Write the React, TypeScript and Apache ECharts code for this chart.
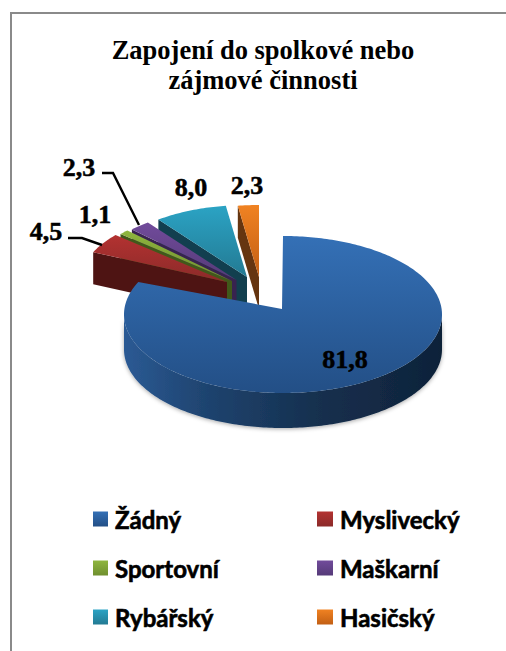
import React, { useEffect, useRef } from "react";
import * as echarts from "echarts";

const categories = ["Žádný", "Myslivecký", "Sportovní", "Maškarní", "Rybářský", "Hasičský"];
const seriesValues = [81.8, 4.5, 1.1, 2.3, 8.0, 2.3];
const titleLines = ["Zapojení do spolkové nebo", "zájmové činnosti"];

// Styling: [top-of-gradient, bottom-of-gradient, side face]
const palette = [
  ["#3470b6", "#234f86", "#1a3658"],
  ["#b33231", "#8b2a29", "#4e1413"],
  ["#8fb63e", "#6f8f2f", "#41591a"],
  ["#714b9b", "#553a78", "#38234f"],
  ["#2ba3c4", "#237a93", "#123f4f"],
  ["#f08222", "#c25f14", "#653510"],
];
// Layout of the 3D projection for each slice: top-face apex, arc centre, radii, depth, label centre
const layout = [
  { ax: 282, ay: 309, cx: 283, cy: 314.5, rx: 159, ry: 78.5, d: 35, lx: 345, ly: 359 },
  { ax: 227, ay: 282, cx: 227, cy: 282, rx: 147, ry: 72, d: 32, lx: 46, ly: 231 },
  { ax: 232, ay: 281, cx: 232, cy: 281, rx: 147, ry: 72, d: 32, lx: 95, ly: 214 },
  { ax: 236.5, ay: 280, cx: 236.5, cy: 280, rx: 147, ry: 72, d: 32, lx: 79, ly: 167 },
  { ax: 247, ay: 277, cx: 247, cy: 277, rx: 147, ry: 72, d: 32, lx: 191, ly: 187 },
  { ax: 259, ay: 277, cx: 259, cy: 277, rx: 147, ry: 72, d: 32, lx: 247, ly: 185 },
];
const leaders: Record<number, number[][]> = {
  1: [[68, 238], [82, 238], [102, 245]],
  3: [[102, 173], [113, 173], [139, 225]],
};
const legendPos = [
  [93, 503], [317, 503], [93, 552], [317, 552], [93, 601], [317, 601],
];

const vGrad = (a: string, b: string) =>
  new echarts.graphic.LinearGradient(0, 0, 0, 1, [
    { offset: 0, color: a },
    { offset: 1, color: b },
  ]);

const total = seriesValues.reduce((s, v) => s + v, 0);
const starts: number[] = [];
seriesValues.reduce((acc, v, i) => {
  starts[i] = acc;
  return acc + v;
}, 0);

function makeRender(i: number) {
  return (_params: any, api: any) => {
    const value = api.value(0) as number;
    const a0 = (starts[i] / total) * 360;
    const a1 = a0 + (value / total) * 360;
    const L = layout[i];
    const pt = (deg: number, dy = 0) => {
      const r = (deg * Math.PI) / 180;
      return [L.cx + L.rx * Math.sin(r), L.cy - L.ry * Math.cos(r) + dy];
    };
    const arc = (from: number, to: number, dy = 0) => {
      const n = Math.max(2, Math.ceil(Math.abs(to - from)));
      const out: number[][] = [];
      for (let k = 0; k <= n; k++) out.push(pt(from + ((to - from) * k) / n, dy));
      return out;
    };
    const children: any[] = [];
    const [c0, c1, side] = palette[i];
    if (i === 0) {
      const wall = [...arc(90, 270), ...arc(270, 90, L.d)];
      children.push({
        type: "polygon",
        shape: { points: wall },
        style: {
          fill: new echarts.graphic.LinearGradient(0, 0, 1, 0, [
            { offset: 0, color: "#2b5a94" },
            { offset: 0.25, color: "#1f4470" },
            { offset: 0.6, color: "#15304f" },
            { offset: 1, color: "#0f2239" },
          ]),
          shadowBlur: 4,
          shadowColor: "rgba(0,0,0,0.35)",
          shadowOffsetY: 1,
        },
      });
    } else {
      const outer = pt(a0);
      children.push({
        type: "polygon",
        shape: {
          points: [[L.ax, L.ay], outer, [outer[0], outer[1] + L.d], [L.ax, L.ay + L.d]],
        },
        style: { fill: side },
      });
    }
    children.push({
      type: "polygon",
      shape: { points: [[L.ax, L.ay], ...arc(a0, a1)] },
      style: { fill: vGrad(c0, c1) },
    });
    if (leaders[i]) {
      children.push({
        type: "polyline",
        shape: { points: leaders[i] },
        style: { stroke: "#000", lineWidth: 2.4, fill: "none" },
      });
    }
    children.push({
      type: "text",
      x: L.lx,
      y: L.ly,
      z2: 50,
      style: {
        text: value.toFixed(1).replace(".", ","),
        fill: "#000",
        stroke: "#000",
        lineWidth: 0.5,
        font: 'bold 26px "Liberation Serif"',
        align: "center",
        verticalAlign: "middle",
      },
    });
    return { type: "group", children };
  };
}

export default function App() {
  const ref = useRef<HTMLDivElement>(null);
  useEffect(() => {
    const chart = echarts.init(ref.current!, null, { renderer: "svg" });
    const order = [5, 4, 3, 2, 1, 0];
    chart.setOption({
      animation: false,
      backgroundColor: "#fff",
      title: {
        text: titleLines.join("\n"),
        left: 263,
        top: 35,
        padding: 0,
        textAlign: "center",
        textStyle: {
          fontFamily: "Liberation Serif",
          fontWeight: "bold",
          fontSize: 26.5,
          lineHeight: 30,
          color: "#000",
        },
      },
      legend: categories.map((name, i) => ({
        left: legendPos[i][0],
        top: legendPos[i][1],
        padding: 0,
        selectedMode: false,
        itemWidth: i % 2 ? 16 : 15,
        itemHeight: 15,
        data: [
          {
            name,
            icon: "rect",
            itemStyle: { color: vGrad(palette[i][0], palette[i][1]) },
          },
        ],
        textStyle: {
          fontFamily: "Lato",
          fontWeight: "bold",
          fontSize: 24,
          color: "#000",
          textBorderColor: "#000",
          textBorderWidth: 0.6,
          padding: [0, 0, 2, 2],
          lineHeight: 30,
        },
      })),
      graphic: [
        {
          type: "polyline",
          silent: true,
          shape: { points: [[11, 651], [11, 13], [506, 13]] },
          style: { stroke: "#8a8a8a", lineWidth: 2, fill: "none" },
        },
      ],
      series: order.map((i) => ({
        type: "custom",
        name: categories[i],
        coordinateSystem: "none",
        silent: true,
        clip: false,
        renderItem: makeRender(i),
        data: [[seriesValues[i]]],
      })),
    });
    return () => chart.dispose();
  }, []);
  return (
    <div
      ref={ref}
      style={{ position: "fixed", left: 0, top: 0, width: 506, height: 651 }}
    />
  );
}
